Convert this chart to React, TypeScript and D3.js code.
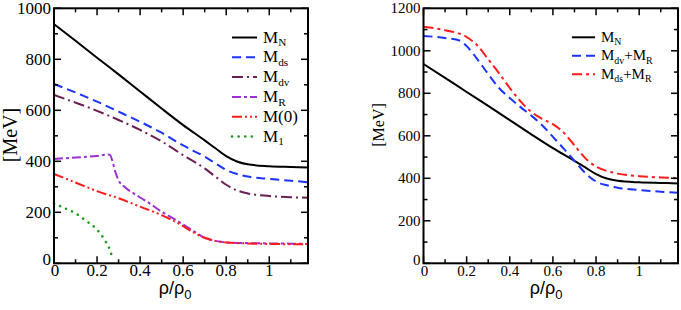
import React from "react";
import * as d3 from "d3";

// ---------- data ----------
const mnX = [0, 0.1, 0.2, 0.3, 0.4, 0.5, 0.6, 0.7, 0.75, 0.8, 0.85, 0.9, 1.0, 1.1, 1.18];
const mnY = [938, 873, 806, 741, 674, 607, 542, 482, 451, 420, 399, 388, 381, 378, 376];

const mdsX = [0, 0.1, 0.2, 0.3, 0.4, 0.5, 0.6, 0.7, 0.75, 0.8, 0.85, 0.9, 1.0, 1.1, 1.18];
const mdsY = [703, 670, 634, 595, 555, 512, 462, 418, 392, 366, 350, 340, 331, 324, 318];

const mdvX = [0, 0.1, 0.2, 0.3, 0.4, 0.5, 0.6, 0.7, 0.75, 0.8, 0.85, 0.9, 1.0, 1.1, 1.18];
const mdvY = [660, 630, 598, 562, 523, 478, 424, 372, 340, 308, 286, 274, 264, 259, 257];

const mrX = [0, 0.1, 0.2, 0.25, 0.26, 0.27, 0.285, 0.3, 0.33, 0.37, 0.4, 0.45, 0.5, 0.55, 0.6, 0.65, 0.7, 0.75, 0.8, 0.9, 1.0, 1.1, 1.18];
const mrY = [409, 415, 421, 427, 425, 405, 358, 326, 298, 274, 258, 232, 202, 178, 152, 125, 100, 88, 82, 79, 78, 77, 76];

const m0X = [0, 0.1, 0.2, 0.3, 0.4, 0.5, 0.6, 0.65, 0.7, 0.75, 0.8, 0.9, 1.0, 1.1, 1.18];
const m0Y = [350, 317, 283, 255, 222, 189, 146, 120, 100, 88, 82, 78, 76, 75, 75];

const m1X = [0, 0.05, 0.1, 0.15, 0.2, 0.24, 0.26, 0.272];
const m1Y = [235, 216, 196, 166, 132, 85, 52, 18];

const mdvMrX = [0, 0.1, 0.17, 0.2, 0.25, 0.3, 0.35, 0.4, 0.45, 0.5, 0.55, 0.6, 0.65, 0.7, 0.75, 0.8, 0.85, 0.9, 1.0, 1.1, 1.18];
const mdvMrY = [1070, 1060, 1047, 1022, 960, 890, 825, 778, 735, 695, 650, 595, 540, 482, 425, 385, 367, 356, 345, 337, 332];

const mdsMrX = [0, 0.1, 0.2, 0.25, 0.3, 0.35, 0.4, 0.45, 0.5, 0.55, 0.6, 0.65, 0.7, 0.75, 0.8, 0.85, 0.9, 1.0, 1.1, 1.18];
const mdsMrY = [1113, 1097, 1065, 1025, 960, 895, 825, 762, 712, 680, 655, 615, 555, 495, 455, 435, 422, 410, 404, 400];

const xTicks = [0, 0.2, 0.4, 0.6, 0.8, 1];
const xTickLabels = ["0", "0.2", "0.4", "0.6", "0.8", "1"];
const xMinor = [0.1, 0.3, 0.5, 0.7, 0.9, 1.1];
const yTicksLeft = [0, 200, 400, 600, 800, 1000];
const yTicksRight = [0, 200, 400, 600, 800, 1000, 1200];

type Series = {
  xs: number[];
  ys: number[];
  color: string;
  dash?: string;
  width?: number;
  cap?: string;
  label: [string, string][]; // [text, "n"|"s"]
};

const leftSeries: Series[] = [
  { xs: mnX, ys: mnY, color: "#000000", label: [["M", "n"], ["N", "s"]] },
  { xs: mdsX, ys: mdsY, color: "#1a33ff", dash: "9,5", label: [["M", "n"], ["ds", "s"]] },
  { xs: mdvX, ys: mdvY, color: "#6a1f52", dash: "11,4,2,4", label: [["M", "n"], ["dv", "s"]] },
  { xs: mrX, ys: mrY, color: "#9b30d6", dash: "9,3,3,3", label: [["M", "n"], ["R", "s"]] },
  { xs: m0X, ys: m0Y, color: "#ff1a1a", dash: "10,3,2,3,2,3", label: [["M(0)", "n"]] },
  { xs: m1X, ys: m1Y, color: "#1f9a1f", dash: "0.1,6.5", width: 2.6, cap: "round", label: [["M", "n"], ["1", "s"]] },
];

const rightSeries: Series[] = [
  { xs: mnX, ys: mnY, color: "#000000", label: [["M", "n"], ["N", "s"]] },
  { xs: mdvMrX, ys: mdvMrY, color: "#1a33ff", dash: "9,5", label: [["M", "n"], ["dv", "s"], ["+M", "n"], ["R", "s"]] },
  { xs: mdsMrX, ys: mdsMrY, color: "#ff1a1a", dash: "10,4,3,4", label: [["M", "n"], ["ds", "s"], ["+M", "n"], ["R", "s"]] },
];

const SERIF = "'Liberation Serif', 'Times New Roman', serif";
const SANS = "'Liberation Sans', Arial, sans-serif";

type PanelProps = {
  x0: number; x1: number; y0: number; y1: number;
  yMax: number; yTicks: number[];
  series: Series[];
  tickFont: number; yLabelFont: number; yLabelX: number; yLabelY: number;
  xLabelX: number;
  legX: number; legY: number; legStep: number; legFont: number; legLine: number;
};

function Panel(p: PanelProps) {
  const x = d3.scaleLinear().domain([0, 1.18]).range([p.x0, p.x1]);
  const y = d3.scaleLinear().domain([0, p.yMax]).range([p.y1, p.y0]);
  const yMinor = d3.range(100, p.yMax, 200);
  const maj = 7, mnr = 4;
  const line = (s: Series) =>
    d3.line<number>().x((_, i) => x(s.xs[i])).y((d) => y(d)).curve(d3.curveMonotoneX)(s.ys) || "";
  const subFont = p.legFont * 0.66;
  return (
    <g>
      {/* curves */}
      {p.series.map((s, i) => (
        <path key={i} d={line(s)} fill="none" stroke={s.color} strokeWidth={s.width ?? 2}
          strokeDasharray={s.dash} strokeLinecap={(s.cap as any) ?? "butt"} strokeLinejoin="round" />
      ))}
      {/* ticks */}
      {xTicks.map((t) => (
        <g key={"xt" + t}>
          <line x1={x(t)} x2={x(t)} y1={p.y1} y2={p.y1 - maj} stroke="#000" strokeWidth={1.5} />
          <line x1={x(t)} x2={x(t)} y1={p.y0} y2={p.y0 + maj} stroke="#000" strokeWidth={1.5} />
        </g>
      ))}
      {xMinor.map((t) => (
        <g key={"xm" + t}>
          <line x1={x(t)} x2={x(t)} y1={p.y1} y2={p.y1 - mnr} stroke="#000" strokeWidth={1.5} />
          <line x1={x(t)} x2={x(t)} y1={p.y0} y2={p.y0 + mnr} stroke="#000" strokeWidth={1.5} />
        </g>
      ))}
      {p.yTicks.map((t) => (
        <g key={"yt" + t}>
          <line x1={p.x0} x2={p.x0 + maj} y1={y(t)} y2={y(t)} stroke="#000" strokeWidth={1.5} />
          <line x1={p.x1} x2={p.x1 - maj} y1={y(t)} y2={y(t)} stroke="#000" strokeWidth={1.5} />
        </g>
      ))}
      {yMinor.map((t) => (
        <g key={"ym" + t}>
          <line x1={p.x0} x2={p.x0 + mnr} y1={y(t)} y2={y(t)} stroke="#000" strokeWidth={1.5} />
          <line x1={p.x1} x2={p.x1 - mnr} y1={y(t)} y2={y(t)} stroke="#000" strokeWidth={1.5} />
        </g>
      ))}
      {/* frame */}
      <rect x={p.x0} y={p.y0} width={p.x1 - p.x0} height={p.y1 - p.y0} fill="none" stroke="#000" strokeWidth={2} />
      {/* tick labels */}
      {xTicks.map((t, i) => (
        <text key={"xl" + t} x={x(t) + (t === 0 ? 1 : 0)} y={p.y1 + 13} textAnchor="middle" fontFamily={SERIF} fontSize={p.tickFont} fill="#000">
          {xTickLabels[i]}
        </text>
      ))}
      {p.yTicks.map((t) => (
        <text key={"yl" + t} x={p.x0 - 3} y={y(t) + (t === 0 ? 2 : p.tickFont * 0.34)} textAnchor="end" fontFamily={SERIF} fontSize={p.tickFont} fill="#000">
          {t}
        </text>
      ))}
      {/* axis labels */}
      <text transform={`translate(${p.yLabelX},${p.yLabelY}) rotate(-90)`} textAnchor="middle" fontFamily={SERIF} fontSize={p.yLabelFont} fill="#000">
        [MeV]
      </text>
      <text x={p.xLabelX} y={294} textAnchor="middle" fontFamily={SANS} fontSize={18} fill="#000">
        <tspan>ρ/ρ</tspan>
        <tspan dy={5} fontSize={13}>0</tspan>
      </text>
      {/* legend */}
      {p.series.map((s, i) => {
        const ly = p.legY + i * p.legStep;
        return (
          <g key={"lg" + i}>
            <line x1={p.legX} x2={p.legX + p.legLine} y1={ly} y2={ly} stroke={s.color} strokeWidth={s.width ?? 2}
              strokeDasharray={s.dash} strokeLinecap={(s.cap as any) ?? "butt"} />
            <text x={p.legX + p.legLine + 6} y={ly + p.legFont * 0.3} fontFamily={SERIF} fontSize={p.legFont} fill="#000">
              {s.label.map(([txt, kind], j) => {
                const prev = j > 0 ? s.label[j - 1][1] : "n";
                let dy = 0;
                if (kind === "s" && prev === "n") dy = 3.5;
                if (kind === "n" && prev === "s") dy = -3.5;
                return (
                  <tspan key={j} dy={dy} fontSize={kind === "s" ? subFont : p.legFont}>{txt}</tspan>
                );
              })}
            </text>
          </g>
        );
      })}
    </g>
  );
}

export default function App() {
  return (
    <svg width={681} height={310} viewBox="0 0 681 310"
      style={{ position: "absolute", left: 0, top: 0, display: "block", background: "#fff" }}>
      <rect x={0} y={0} width={681} height={310} fill="#fff" />
      <Panel x0={54} x1={308} y0={8.3} y1={263.3} yMax={1000} yTicks={yTicksLeft} series={leftSeries}
        tickFont={17} yLabelFont={20} yLabelX={17} yLabelY={135} xLabelX={175}
        legX={232} legY={37.5} legStep={19.8} legFont={17} legLine={25} />
      <Panel x0={423.5} x1={678} y0={8.3} y1={263.3} yMax={1200} yTicks={yTicksRight} series={rightSeries}
        tickFont={15} yLabelFont={16} yLabelX={384} yLabelY={125} xLabelX={546}
        legX={572} legY={37.3} legStep={18.5} legFont={15} legLine={23} />
    </svg>
  );
}
